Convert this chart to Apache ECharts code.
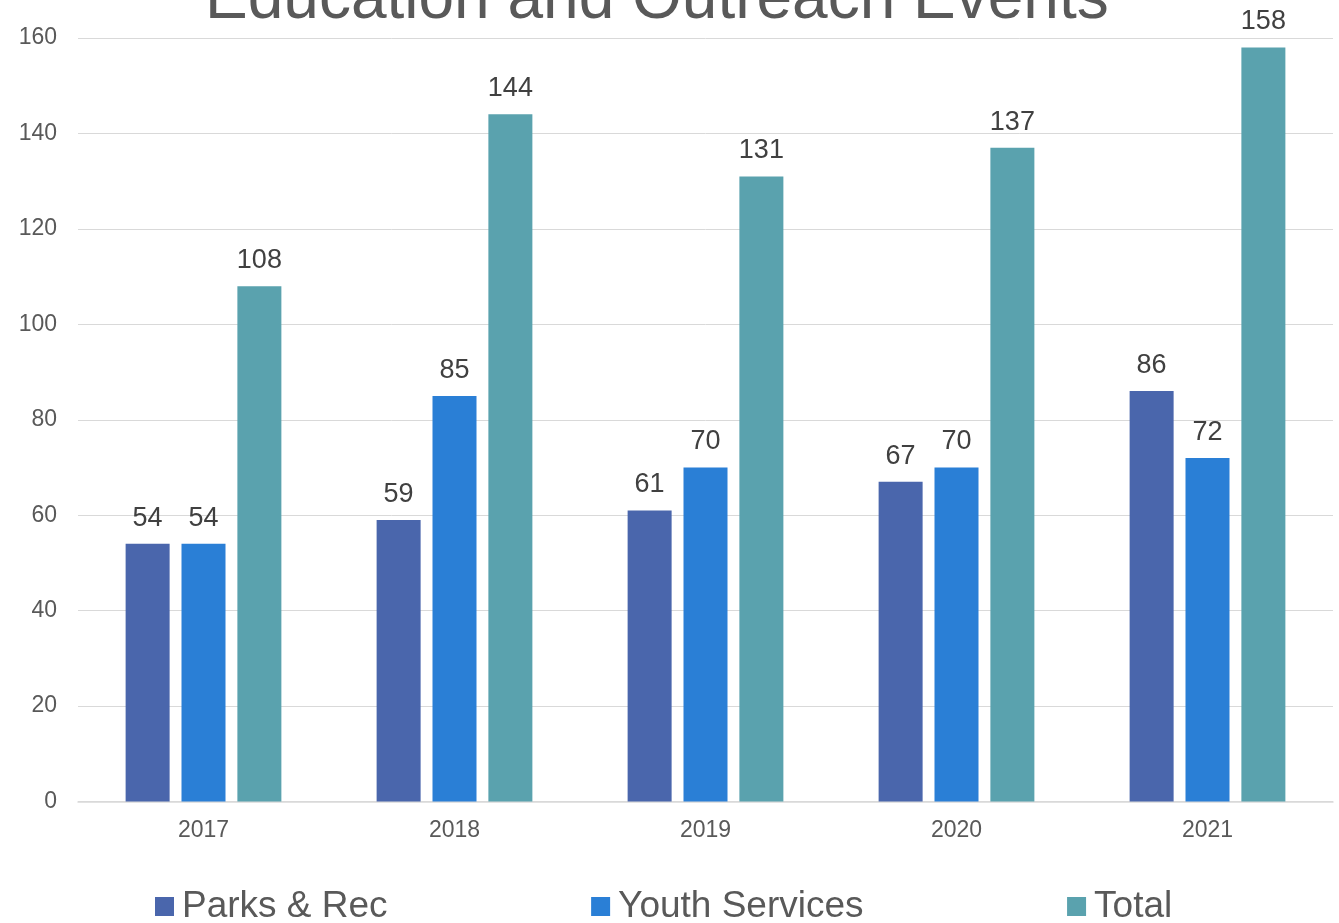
<!DOCTYPE html>
<html>
<head>
<meta charset="utf-8">
<script src="https://cdn.jsdelivr.net/npm/echarts@6/dist/echarts.min.js"></script>
<style>
  html, body { margin: 0; padding: 0; background: #fff; }
  #chart { width: 1339px; height: 923px; }
</style>
</head>
<body>
<div id="chart"></div>
<script>
const years = ["2017", "2018", "2019", "2020", "2021"];
const parksRec = [54, 59, 61, 67, 86];
const youthServices = [54, 85, 70, 70, 72];
const total = [108, 144, 131, 137, 158];

const font = "Liberation Sans, Arial, sans-serif";
const label = {
  show: true,
  position: "top",
  distance: 12,
  color: "#404040",
  fontSize: 27,
  fontFamily: font,
};

function bar(name, data, color) {
  return {
    name: name,
    type: "bar",
    data: data,
    barWidth: 44,
    barGap: "27%",
    itemStyle: { color: color },
    label: label,
  };
}

const chart = echarts.init(document.getElementById("chart"));
chart.setOption({
  animation: false,
  textStyle: { fontFamily: font },
  title: {
    text: "Education and Outreach Events",
    left: 200,
    top: -37,
    textStyle: { fontSize: 64, fontWeight: "normal", color: "#595959", fontFamily: font },
  },
  grid: { left: 78, right: 6, top: 38, bottom: 121.5 },
  legend: {
    top: 883,
    left: 150,
    itemWidth: 19,
    itemHeight: 19,
    itemGap: 203.5,
    icon: "rect",
    textStyle: { fontSize: 37, color: "#595959", padding: [0, 0, 0, 3], fontFamily: font },
  },
  xAxis: {
    type: "category",
    data: years,
    axisTick: { show: false },
    axisLine: { lineStyle: { color: "#d9d9d9", width: 1.5 } },
    axisLabel: { fontSize: 23, color: "#595959", margin: 18 },
  },
  yAxis: {
    type: "value",
    min: 0,
    max: 160,
    interval: 20,
    axisLine: { show: false },
    axisTick: { show: false },
    splitLine: { lineStyle: { color: "#d9d9d9", width: 1 } },
    axisLabel: { fontSize: 23, color: "#595959", margin: 21 },
  },
  series: [
    bar("Parks & Rec", parksRec, "#4A66AC"),
    bar("Youth Services", youthServices, "#2A7FD6"),
    bar("Total", total, "#5AA2AE"),
  ],
});
</script>
</body>
</html>
